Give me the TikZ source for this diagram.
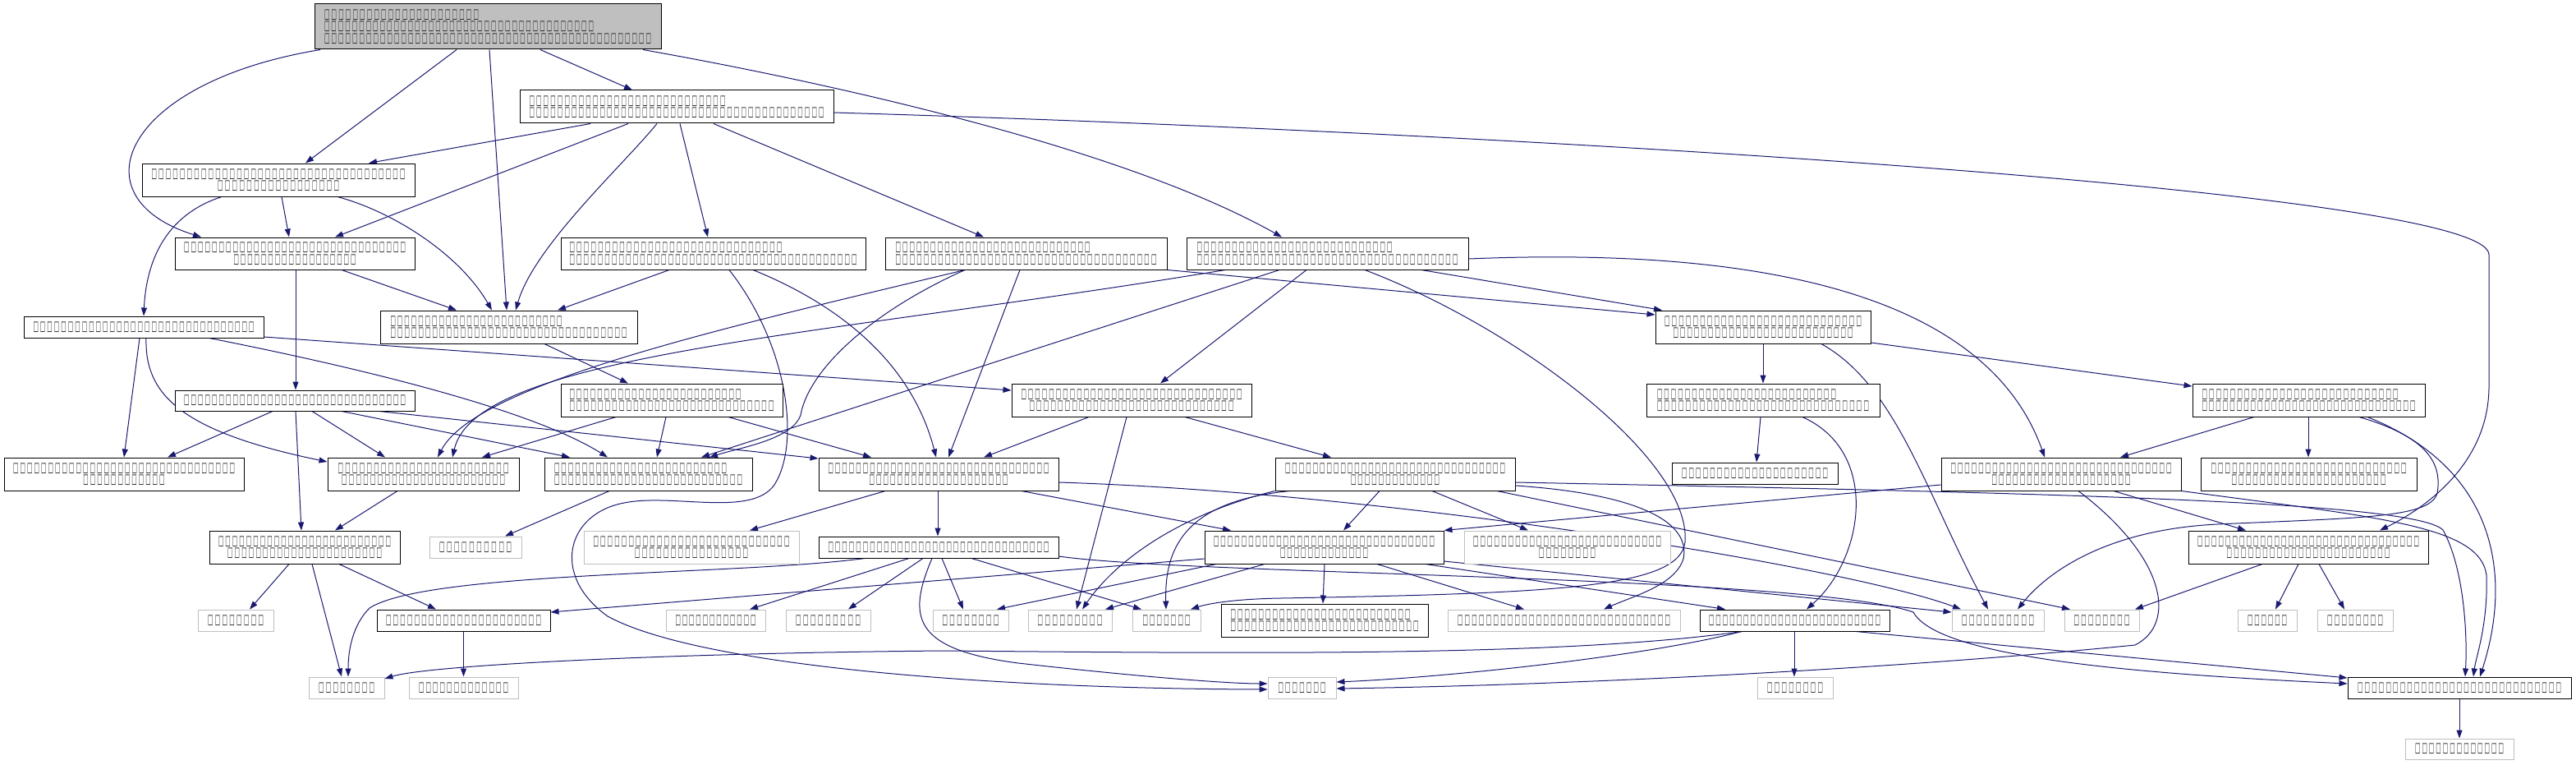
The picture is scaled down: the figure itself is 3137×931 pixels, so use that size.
\documentclass[tikz,border=0pt]{standalone}
\usepackage{fontspec}
\usepackage{graphicx}
\usetikzlibrary{arrows.meta}
\newfontfamily\dvs{DejaVu Sans}
\newcommand\tfg{\resizebox{6.4pt}{10.6pt}{\dvs □}}
\newcommand\tf[2]{\hbox to #2pt{\tfg\foreach\i in {2,...,#1}{\hss\tfg}}}
\definecolor{edgec}{HTML}{191970}
\definecolor{leafc}{HTML}{BFBFBF}
\definecolor{txtc}{HTML}{222222}
\pgfdeclarelayer{bg}
\pgfsetlayers{bg,main}
\tikzset{
  nb/.style={draw=black, line width=1pt, fill=white, inner sep=0pt, align=center, text=txtc,
    font=\dvs\fontsize{14}{14.5}\selectfont},
  nl/.style={nb, align=left},
  ng/.style={nb, draw=leafc},
  sz/.style 2 args={minimum width=#1pt, minimum height=#2pt},
  conn/.style={draw=edgec, line width=1pt, -{Triangle[length=10pt,width=7pt]}},
}
\begin{document}
\begin{tikzpicture}[x=1pt,y=-1pt]
\path[use as bounding box] (0,0) rectangle (3137,931);
% nodes
\node[nl, sz={422}{55}, fill=leafc] (root) at (594,32.5) {\tf{22}{188}\\\tf{39}{328}\\\tf{47}{398}};
\node[nl, sz={382}{40}] (A) at (824,130) {\tf{28}{239}\\\tf{42}{359}};
\node[nb, sz={332}{40}] (B) at (339,219) {\tf{36}{309}\\\tf{17}{148}};
\node[nb, sz={292}{39}] (C) at (359,308.5) {\tf{32}{270}\\\tf{18}{149}};
\node[nl, sz={371}{39}] (D) at (868.5,308.5) {\tf{30}{259}\\\tf{41}{350}};
\node[nl, sz={343}{39}] (E) at (1249.5,308.5) {\tf{28}{237}\\\tf{37}{318}};
\node[nl, sz={343}{39}] (F) at (1616.5,308.5) {\tf{28}{238}\\\tf{37}{318}};
\node[nl, sz={313}{40}] (G) at (619.5,398) {\tf{25}{209}\\\tf{34}{288}};
\node[nb, sz={292}{26}] (H) at (175,398) {\tf{32}{269}};
\node[nb, sz={262}{40}] (I) at (2147,398) {\tf{28}{240}\\\tf{26}{219}};
\node[nb, sz={292}{25}] (J) at (359,487.5) {\tf{32}{270}};
\node[nl, sz={270}{40}] (K) at (818,487) {\tf{25}{209}\\\tf{29}{249}};
\node[nb, sz={292}{40}] (L) at (1378,487) {\tf{32}{269}\\\tf{29}{249}};
\node[nl, sz={284}{40}] (M) at (2147,487) {\tf{26}{218}\\\tf{30}{258}};
\node[nl, sz={283}{40}] (N) at (2811.5,487) {\tf{28}{239}\\\tf{31}{260}};
\node[nb, sz={292}{40}] (O) at (151,577) {\tf{32}{270}\\\tf{12}{99}};
\node[nb, sz={233}{40}] (P) at (515.5,577) {\tf{24}{208}\\\tf{23}{199}};
\node[nl, sz={253}{40}] (Q) at (789.5,577) {\tf{25}{210}\\\tf{27}{229}};
\node[nb, sz={292}{40}] (R) at (1143,577) {\tf{32}{269}\\\tf{20}{169}};
\node[nb, sz={292}{40}] (S) at (1699,577) {\tf{32}{268}\\\tf{13}{108}};
\node[nb, sz={202}{26}] (T) at (2137,576) {\tf{21}{178}};
\node[nb, sz={292}{40}] (U) at (2510,577) {\tf{32}{269}\\\tf{20}{169}};
\node[nb, sz={263}{40}] (V) at (2811.5,577) {\tf{28}{238}\\\tf{22}{188}};
\node[nb, sz={232}{40}] (W) at (371,666) {\tf{25}{210}\\\tf{22}{188}};
\node[ng, sz={112}{26}] (X) at (579,666) {\tf{10}{88}};
\node[ng, sz={262}{40}] (Y) at (842,666) {\tf{28}{239}\\\tf{16}{138}};
\node[nb, sz={292}{26}] (Z) at (1143,666) {\tf{32}{269}};
\node[nb, sz={291}{40}] (AA) at (1612.5,666) {\tf{32}{269}\\\tf{13}{107}};
\node[ng, sz={251}{40}] (AB) at (1908.5,666) {\tf{27}{229}\\\tf{8}{69}};
\node[nb, sz={292}{40}] (AC) at (2811,666) {\tf{32}{270}\\\tf{23}{199}};
\node[ng, sz={92}{26}] (AD) at (287,755) {\tf{8}{68}};
\node[nb, sz={211}{26}] (AE) at (564.5,755) {\tf{22}{189}};
\node[ng, sz={121}{26}] (AF) at (871.5,755) {\tf{12}{98}};
\node[ng, sz={103}{26}] (AG) at (1008.5,755) {\tf{9}{79}};
\node[ng, sz={92}{26}] (AH) at (1182,755) {\tf{8}{69}};
\node[ng, sz={102}{26}] (AI) at (1303,755) {\tf{9}{79}};
\node[ng, sz={83}{26}] (AJ) at (1420.5,755) {\tf{7}{58}};
\node[nl, sz={252}{40}] (AK) at (1613,755) {\tf{26}{219}\\\tf{27}{229}};
\node[ng, sz={283}{26}] (AL) at (1904.5,755) {\tf{30}{259}};
\node[nb, sz={231}{26}] (AM) at (2185.5,755) {\tf{25}{209}};
\node[ng, sz={112}{26}] (AN) at (2433,755) {\tf{10}{88}};
\node[ng, sz={91}{26}] (AO) at (2559.5,755) {\tf{8}{68}};
\node[ng, sz={72}{26}] (AP) at (2761,755) {\tf{6}{48}};
\node[ng, sz={92}{26}] (AQ) at (2868,755) {\tf{8}{68}};
\node[ng, sz={92}{26}] (AR) at (422,837) {\tf{8}{68}};
\node[ng, sz={133}{26}] (AS) at (564.5,837) {\tf{13}{109}};
\node[ng, sz={83}{26}] (AT) at (1585.5,837) {\tf{7}{58}};
\node[ng, sz={92}{26}] (AU) at (2186,837) {\tf{8}{68}};
\node[nb, sz={272}{26}] (AV) at (2995,837) {\tf{29}{248}};
\node[ng, sz={132}{25}] (AW) at (2995,911.5) {\tf{13}{108}};
% edges
\begin{pgfonlayer}{bg}
\draw[conn] (root.south -| 390,0) .. controls (150,100) and (90,240) .. (C.north -| 245,0);
\draw[conn] (root.south -| 556,0) -- (B.north -| 372,0);
\draw[conn] (root.south -| 596,0) -- (G.north -| 617,0);
\draw[conn] (root.south -| 658,0) -- (A.north -| 770,0);
\draw[conn] (root.south -| 783,0) .. controls (950,90) and (1350,170) .. (F.north -| 1561,0);
\draw[conn] (A.south -| 719,0) -- (B.north -| 449,0);
\draw[conn] (A.south -| 765,0) -- (C.north -| 408,0);
\draw[conn] (A.south -| 800,0) .. controls (760,200) and (650,300) .. (G.north -| 628,0);
\draw[conn] (A.south -| 828,0) -- (D.north -| 862,0);
\draw[conn] (A.south -| 869,0) -- (E.north -| 1198,0);
\draw[conn] (A.east |- 0,137) .. controls (1800,160) and (3031,230) .. (3031,310) -- (3031,470) .. controls (3031,560) and (2960,615) .. (AC.north -| 2898,0);
\draw[conn] (B.south -| 270,0) .. controls (200,262) and (178,320) .. (H.north -| 175,0);
\draw[conn] (B.south -| 343,0) -- (C.north -| 352,0);
\draw[conn] (B.south -| 411,0) .. controls (480,258) and (560,310) .. (G.north -| 599,0);
\draw[conn] (C.south -| 360,0) -- (J.north -| 360,0);
\draw[conn] (C.south -| 416,0) -- (G.north -| 556,0);
\draw[conn] (D.south -| 815,0) -- (G.north -| 679,0);
\draw[conn] (D.south -| 917,0) .. controls (1020,370) and (1110,440) .. (R.north -| 1140,0);
\draw[conn] (D.south -| 888,0) .. controls (960,420) and (975,540) .. (943,590) .. controls (915,630) and (820,600) .. (760,612) .. controls (690,625) and (670,700) .. (740,750) .. controls (850,810) and (1200,838) .. (AT.west |- 0,839);
\draw[conn] (E.south -| 1175,0) .. controls (900,395) and (580,465) .. (P.north -| 533,0);
\draw[conn] (E.south -| 1175,0) .. controls (1060,380) and (985,450) .. (975,505) .. controls (965,535) and (900,545) .. (Q.north -| 864,0);
\draw[conn] (E.south -| 1242,0) -- (R.north -| 1155,0);
\draw[conn] (E.south east) -- (I.west |- 0,383);
\draw[conn] (F.south -| 1492,0) .. controls (1000,410) and (580,430) .. (P.north -| 551,0);
\draw[conn] (F.south -| 1558,0) -- (Q.north -| 854,0);
\draw[conn] (F.south -| 1591,0) -- (L.north -| 1413,0);
\draw[conn] (F.south -| 1731,0) -- (I.north -| 2024,0);
\draw[conn] (F.east |- 0,315) .. controls (2150,300) and (2420,360) .. (U.north -| 2490,0);
\draw[conn] (F.south -| 1662,0) .. controls (1850,400) and (2060,560) .. (2052,660) .. controls (2045,715) and (1900,722) .. (1560,728) .. controls (1500,729) and (1470,735) .. (AJ.north -| 1450,0);
\draw[conn] (G.south -| 663,0) -- (K.north -| 765,0);
\draw[conn] (H.south -| 170,0) -- (O.north -| 151,0);
\draw[conn] (H.south -| 178,0) .. controls (176,480) and (220,525) .. (P.west |- 0,562);
\draw[conn] (H.south -| 255,0) .. controls (450,450) and (650,500) .. (Q.north -| 740,0);
\draw[conn] (H.east |- 0,410) -- (L.west |- 0,475);
\draw[conn] (I.south -| 2147,0) -- (M.north -| 2147,0);
\draw[conn] (I.east |- 0,417) -- (N.west |- 0,470);
\draw[conn] (I.south -| 2218,0) .. controls (2310,470) and (2345,600) .. (AN.north -| 2421,0);
\draw[conn] (J.south -| 332,0) -- (O.north -| 204,0);
\draw[conn] (J.south -| 360,0) -- (W.north -| 367,0);
\draw[conn] (J.south -| 380,0) -- (P.north -| 469,0);
\draw[conn] (J.south -| 416,0) -- (Q.north -| 694,0);
\draw[conn] (J.south -| 462,0) -- (R.west |- 0,558);
\draw[conn] (K.south -| 750,0) -- (P.north -| 587,0);
\draw[conn] (K.south -| 811,0) -- (Q.north -| 800,0);
\draw[conn] (K.south -| 887,0) -- (R.north -| 1061,0);
\draw[conn] (L.south -| 1326,0) -- (R.north -| 1198,0);
\draw[conn] (L.south -| 1372,0) -- (AI.north -| 1311,0);
\draw[conn] (L.south -| 1443,0) -- (S.north -| 1621,0);
\draw[conn] (M.south -| 2144,0) -- (T.north -| 2139,0);
\draw[conn] (M.south -| 2195,0) .. controls (2290,550) and (2270,680) .. (AM.north -| 2200,0);
\draw[conn] (N.south -| 2745,0) -- (U.north -| 2582,0);
\draw[conn] (N.south -| 2811,0) -- (V.north -| 2811,0);
\draw[conn] (N.south -| 2873,0) .. controls (2950,530) and (2975,560) .. (2968,600) .. controls (2960,630) and (2880,630) .. (2700,638) .. controls (2560,645) and (2490,700) .. (AN.north -| 2457,0);
\draw[conn] (N.south -| 2883,0) .. controls (3040,570) and (3060,700) .. (AV.north -| 3020,0);
\draw[conn] (P.south -| 484,0) -- (W.north -| 408,0);
\draw[conn] (Q.south -| 742,0) -- (X.north -| 615,0);
\draw[conn] (R.south -| 1078,0) -- (Y.north -| 913,0);
\draw[conn] (R.south -| 1142,0) -- (Z.north -| 1142,0);
\draw[conn] (R.south -| 1244,0) -- (AA.north -| 1499,0);
\draw[conn] (R.east |- 0,587) .. controls (1700,600) and (2250,690) .. (AN.north -| 2388,0);
\draw[conn] (S.south -| 1680,0) -- (AA.north -| 1636,0);
\draw[conn] (S.south -| 1744,0) -- (AB.north -| 1861,0);
\draw[conn] (S.south -| 1823,0) -- (AO.north -| 2521,0);
\draw[conn] (S.east |- 0,587) .. controls (2500,600) and (2940,610) .. (2975,645) .. controls (3000,690) and (3005,770) .. (AV.north -| 3002,0);
\draw[conn] (S.east |- 0,591) .. controls (1980,600) and (2060,630) .. (2050,680) .. controls (2040,712) and (1990,725) .. (AL.north -| 1953,0);
\draw[conn] (S.south west) .. controls (1440,625) and (1360,680) .. (AI.north -| 1318,0);
\draw[conn] (S.south -| 1571,0) .. controls (1440,610) and (1418,670) .. (AJ.north -| 1420,0);
\draw[conn] (U.west |- 0,590) -- (AA.north east);
\draw[conn] (U.south -| 2574,0) -- (AC.north -| 2735,0);
\draw[conn] (U.south -| 2531,0) .. controls (2640,680) and (2650,760) .. (2600,785) .. controls (2300,815) and (1900,834) .. (AT.east |- 0,838);
\draw[conn] (U.south east) .. controls (2900,630) and (3020,640) .. (3028,700) .. controls (3030,760) and (3015,800) .. (AV.north -| 3012,0);
\draw[conn] (W.south -| 352,0) -- (AD.north -| 304,0);
\draw[conn] (W.south -| 413,0) -- (AE.north -| 531,0);
\draw[conn] (W.south -| 380,0) -- (AR.north -| 416,0);
\draw[conn] (Z.south -| 1107,0) -- (AF.north -| 913,0);
\draw[conn] (Z.south -| 1124,0) -- (AG.north -| 1033,0);
\draw[conn] (Z.south -| 1147,0) -- (AH.north -| 1173,0);
\draw[conn] (Z.south -| 1183,0) -- (AJ.north -| 1390,0);
\draw[conn] (Z.south -| 1053,0) .. controls (900,700) and (520,695) .. (450,740) .. controls (430,760) and (424,790) .. (AR.north -| 424,0);
\draw[conn] (Z.south -| 1135,0) .. controls (1105,750) and (1110,790) .. (1240,807) .. controls (1400,825) and (1500,832) .. (AT.west |- 0,832);
\draw[conn] (Z.east |- 0,677) .. controls (1450,700) and (2200,700) .. (2330,745) .. controls (2360,800) and (2600,820) .. (AV.west |- 0,832);
\draw[conn] (AA.west |- 0,680) -- (AE.east |- 0,745);
\draw[conn] (AA.south -| 1481,0) -- (AH.north -| 1214,0);
\draw[conn] (AA.south -| 1540,0) -- (AI.north -| 1346,0);
\draw[conn] (AA.south -| 1613,0) -- (AK.north -| 1611,0);
\draw[conn] (AA.south -| 1677,0) -- (AL.north -| 1856,0);
\draw[conn] (AA.south -| 1736,0) -- (AM.north -| 2101,0);
\draw[conn] (AA.east |- 0,683) -- (AN.west |- 0,745);
\draw[conn] (AC.south -| 2755,0) -- (AO.north -| 2600,0);
\draw[conn] (AC.south -| 2799,0) -- (AP.north -| 2771,0);
\draw[conn] (AC.south -| 2824,0) -- (AQ.north -| 2855,0);
\draw[conn] (AE.south -| 564.5,0) -- (AS.north -| 564.5,0);
\draw[conn] (AM.south -| 2121,0) .. controls (1900,800) and (1500,795) .. (1150,792) .. controls (800,795) and (520,810) .. (AR.east |- 0,826);
\draw[conn] (AM.south -| 2121,0) .. controls (2000,800) and (1750,825) .. (AT.east |- 0,830);
\draw[conn] (AM.south -| 2185,0) -- (AU.north -| 2185,0);
\draw[conn] (AM.south -| 2260,0) -- (AV.west |- 0,825);
\draw[conn] (AV.south -| 2995,0) -- (AW.north -| 2995,0);
\end{pgfonlayer}
\end{tikzpicture}
\end{document}
